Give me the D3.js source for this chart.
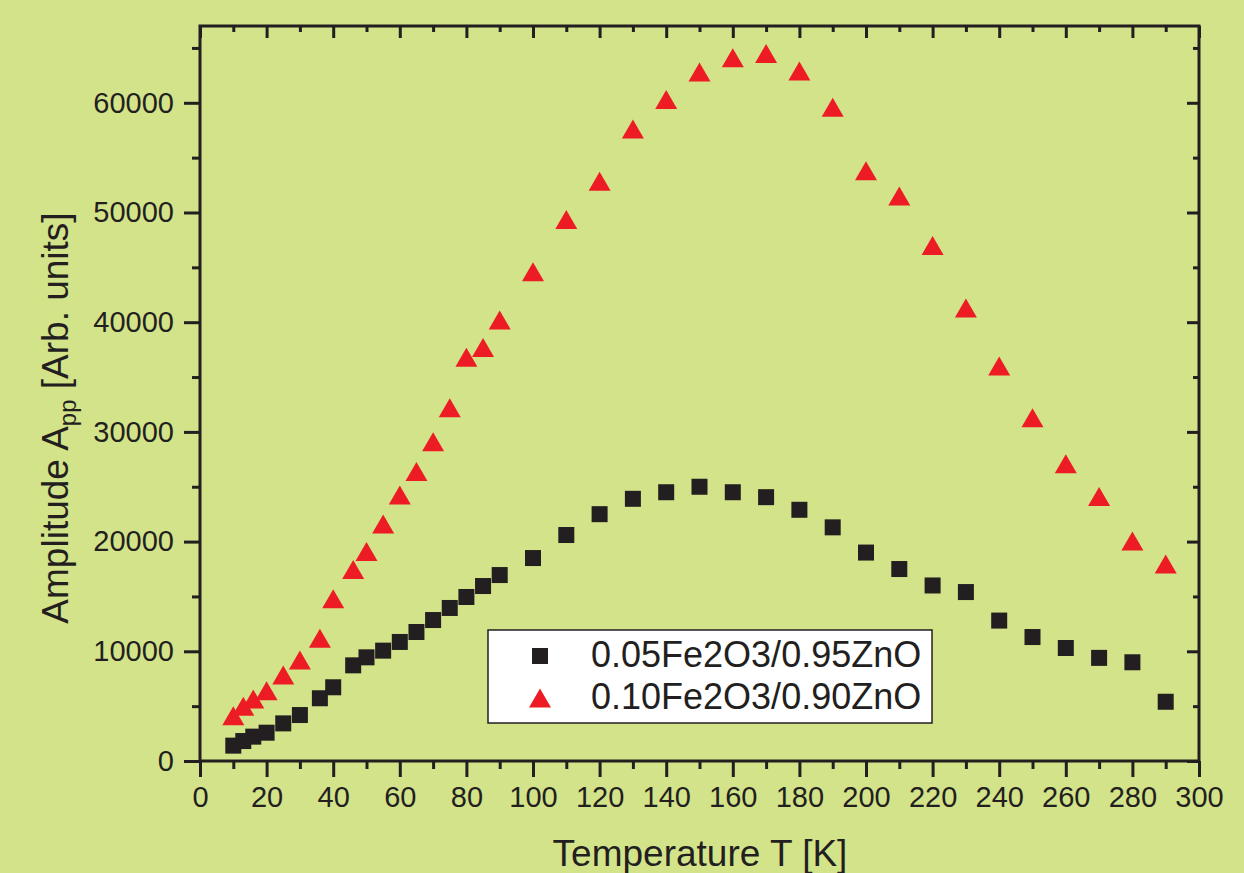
<!DOCTYPE html>
<html lang="en">
<head>
  <meta charset="utf-8">
  <title>Amplitude vs Temperature</title>
  <script src="https://cdn.jsdelivr.net/npm/d3@7"></script>
  <style>
    body { margin: 0; background: #d3e389; }
    text { font-family: "Liberation Sans", Arial, sans-serif; fill: #231f20; }
  </style>
</head>
<body>
  <svg width="1244" height="873" id="mainsvg"></svg>
  <script>
    // temperatures (K) and amplitudes
    const tempsA = [10, 13, 16, 20, 25, 30, 36, 40, 46, 50, 55, 60, 65, 70, 75, 80, 85, 90,
      100, 110, 120, 130, 140, 150, 160, 170, 180, 190, 200, 210, 220, 230, 240, 250, 260, 270, 280, 290];
    const ampA = [1400, 1820, 2220, 2580, 3430, 4190, 5720, 6720, 8720, 9450, 10060, 10850, 11760, 12850, 13950, 14950, 15950, 16950,
      18500, 20600, 22500, 23900, 24500, 25000, 24500, 24050, 22900, 21300, 19000, 17500, 16000, 15400, 12800, 11300, 10300, 9400, 9000, 5400];

    const tempsB = [10, 13, 16, 20, 25, 30, 36, 40, 46, 50, 55, 60, 65, 70, 75, 80, 85, 90,
      100, 110, 120, 130, 140, 150, 160, 170, 180, 190, 200, 210, 220, 230, 240, 250, 260, 270, 280, 290];
    const ampB = [4130, 5000, 5650, 6400, 7840, 9200, 11200, 14800, 17450, 19100, 21600, 24250, 26400, 29100, 32200, 36800, 37700, 40200,
      44600, 49350, 52850, 57600, 60300, 62800, 64100, 64500, 62900, 59600, 53800, 51500, 47000, 41300, 36000, 31300, 27100, 24100, 20050, 17950];

    const seriesNames = ['0.05Fe2O3/0.95ZnO', '0.10Fe2O3/0.90ZnO'];
    const xMajor = d3.range(0, 301, 20);
    const xMinor = d3.range(10, 300, 20);
    const yMajor = d3.range(0, 60001, 10000);
    const yMinor = d3.range(5000, 67000, 10000);

    const svg = d3.select('#mainsvg');
    const pLeft = 200, pRight = 1199, pTop = 26, pBottom = 761;
    const ink = '#231f20';
    const red = '#ed1c24';

    const xScale = d3.scaleLinear().domain([0, 300]).range([pLeft, pRight]);
    const yScale = d3.scaleLinear().domain([0, 67000]).range([pBottom, pTop]);

    const styleAxis = (g) => {
      g.selectAll('.domain').remove();
      g.selectAll('line').attr('stroke', ink).attr('stroke-width', 3);
      g.selectAll('text').attr('font-size', 29).attr('fill', ink);
    };

    // bottom axis
    svg.append('g').attr('transform', `translate(0, ${pBottom})`)
      .call(d3.axisBottom(xScale).tickValues(xMajor).tickFormat(d3.format('d')).tickSize(16).tickPadding(9).tickSizeOuter(0))
      .call(styleAxis);
    svg.append('g').attr('transform', `translate(0, ${pBottom})`)
      .call(d3.axisBottom(xScale).tickValues(xMinor).tickSize(8).tickFormat('').tickSizeOuter(0))
      .call(styleAxis);

    // top axis (ticks inward)
    svg.append('g').attr('transform', `translate(0, ${pTop})`)
      .call(d3.axisBottom(xScale).tickValues(xMajor).tickSize(12).tickFormat('').tickSizeOuter(0))
      .call(styleAxis);
    svg.append('g').attr('transform', `translate(0, ${pTop})`)
      .call(d3.axisBottom(xScale).tickValues(xMinor).tickSize(6).tickFormat('').tickSizeOuter(0))
      .call(styleAxis);

    // left axis
    svg.append('g').attr('transform', `translate(${pLeft}, 0)`)
      .call(d3.axisLeft(yScale).tickValues(yMajor).tickFormat(d3.format('d')).tickSize(16).tickPadding(10).tickSizeOuter(0))
      .call(styleAxis);
    svg.append('g').attr('transform', `translate(${pLeft}, 0)`)
      .call(d3.axisLeft(yScale).tickValues(yMinor).tickSize(8).tickFormat('').tickSizeOuter(0))
      .call(styleAxis);

    // right axis (ticks inward)
    svg.append('g').attr('transform', `translate(${pRight}, 0)`)
      .call(d3.axisLeft(yScale).tickValues(yMajor).tickSize(12).tickFormat('').tickSizeOuter(0))
      .call(styleAxis);
    svg.append('g').attr('transform', `translate(${pRight}, 0)`)
      .call(d3.axisLeft(yScale).tickValues(yMinor).tickSize(6).tickFormat('').tickSizeOuter(0))
      .call(styleAxis);

    // frame
    svg.append('rect')
      .attr('x', pLeft).attr('y', pTop)
      .attr('width', pRight - pLeft).attr('height', pBottom - pTop)
      .attr('fill', 'none').attr('stroke', ink).attr('stroke-width', 3);

    // axis titles
    svg.append('text')
      .attr('x', 700).attr('y', 866)
      .attr('text-anchor', 'middle').attr('font-size', 37)
      .text('Temperature T [K]');

    const yTitle = svg.append('text')
      .attr('transform', `translate(68, 418) rotate(-90)`)
      .attr('text-anchor', 'middle').attr('font-size', 37);
    yTitle.append('tspan').text('Amplitude A');
    yTitle.append('tspan').attr('font-size', 24).attr('dy', 8).text('pp');
    yTitle.append('tspan').attr('dy', -8).text(' [Arb. units]');

    // data marks
    const dataA = tempsA.map((t, i) => ({ t, v: ampA[i] }));
    const dataB = tempsB.map((t, i) => ({ t, v: ampB[i] }));
    const sq = 16, tw = 22, th = 19;
    const triPath = (cx, cy) => `M${cx},${cy - th / 2}L${cx + tw / 2},${cy + th / 2}L${cx - tw / 2},${cy + th / 2}Z`;

    svg.append('g').selectAll('rect').data(dataA).enter().append('rect')
      .attr('x', d => xScale(d.t) - sq / 2)
      .attr('y', d => yScale(d.v) - sq / 2)
      .attr('width', sq).attr('height', sq)
      .attr('fill', ink);

    svg.append('g').selectAll('path').data(dataB).enter().append('path')
      .attr('d', d => triPath(xScale(d.t), yScale(d.v)))
      .attr('fill', red);

    // legend
    const lg = svg.append('g');
    lg.append('rect')
      .attr('x', 488).attr('y', 630).attr('width', 444).attr('height', 93)
      .attr('fill', 'white').attr('stroke', ink).attr('stroke-width', 1.5);
    lg.append('rect').attr('x', 540 - 8).attr('y', 656 - 8).attr('width', 16).attr('height', 16).attr('fill', ink);
    lg.append('path').attr('d', triPath(540, 698)).attr('fill', red);
    lg.selectAll('.legend_text').data(seriesNames).enter().append('text')
      .attr('class', 'legend_text')
      .attr('x', 591).attr('y', (d, i) => 667 + i * 42)
      .attr('font-size', 36)
      .text(d => d);
  </script>
</body>
</html>
